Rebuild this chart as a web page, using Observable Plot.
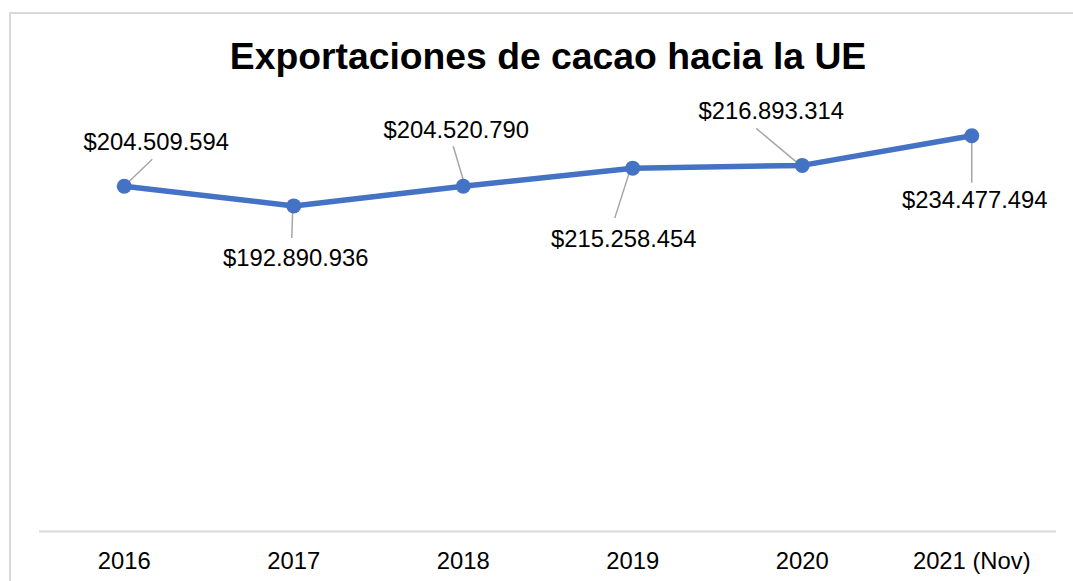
<!DOCTYPE html>
<html>
<head>
<meta charset="utf-8">
<script src="https://cdn.jsdelivr.net/npm/d3@7"></script>
<script src="https://cdn.jsdelivr.net/npm/@observablehq/plot@0.6"></script>
<style>
  html, body { margin: 0; padding: 0; background: #fff; overflow: hidden; }
  #wrap { position: relative; width: 1073px; height: 581px; overflow: hidden; font-family: "Liberation Sans", Arial, sans-serif; }
  #frame { position: absolute; left: 9px; top: 12px; width: 1200px; height: 700px; border: 2px solid #d9d9d9; box-sizing: border-box; }
  #title { position: absolute; left: 0; top: 0; width: 1096px; text-align: center; font-size: 37.3px; font-weight: bold; line-height: 1.15; padding-top: 35px; color: #000; }
  #chart { position: absolute; left: 0; top: 90px; }
</style>
</head>
<body>
<div id="wrap">
  <div id="frame"></div>
  <div id="title">Exportaciones de cacao hacia la UE</div>
  <div id="chart"></div>
</div>
<script>
// Data
const years = ["2016", "2017", "2018", "2019", "2020", "2021 (Nov)"];
const values = [204509594, 192890936, 204520790, 215258454, 216893314, 234477494];
const labels = ["$204.509.594", "$192.890.936", "$204.520.790", "$215.258.454", "$216.893.314", "$234.477.494"];

// Layout (pixel offsets of label centres and leader ends relative to each point)
const labelOffsets = [[32, -44], [2, 52], [-7, -56], [-9, 71], [-31, -54], [3, 65]];
const leaderOffsets = [[[2, -2], [28, -27]], [[-1, 2], [-2, 32]], [[1, -3], [-10, -40]], [[-3, 3], [-18, 50]], [[-3, -1], [-46, -37]], [[0, 3], [0, 47]]];

const W = 1073, H = 491, mL = 39, mR = 17, mT = 19, mB = 50;
const yMax = 250e6;
const kx = 6 / (W - mL - mR);          // data units per px in x (index scale)
const ky = yMax / (H - mT - mB);       // data units per px in y

const pts = years.map((yr, i) => ({i, year: yr, value: values[i], label: labels[i]}));
const leaders = pts.map((d, i) => ({
  x1: d.i + leaderOffsets[i][0][0] * kx, y1: d.value - leaderOffsets[i][0][1] * ky,
  x2: d.i + leaderOffsets[i][1][0] * kx, y2: d.value - leaderOffsets[i][1][1] * ky
}));

const blue = "#4472C4";
const fontSize = 23.8;

const plot = Plot.plot({
  width: W,
  height: H,
  marginLeft: mL,
  marginRight: mR,
  marginTop: mT,
  marginBottom: mB,
  style: {fontFamily: "'Liberation Sans', Arial, sans-serif", fontSize: fontSize + "px", background: "transparent", color: "#000"},
  x: {type: "linear", domain: [-0.5, 5.5], axis: null},
  y: {domain: [0, yMax], axis: null},
  marks: [
    Plot.ruleY([0], {stroke: "#d9d9d9", strokeWidth: 2}),
    Plot.axisX({ticks: [0, 1, 2, 3, 4, 5], tickFormat: i => years[i], tickSize: 0, tickPadding: 21, fontSize: fontSize, anchor: "bottom", color: "#000"}),
    Plot.link(leaders, {x1: "x1", y1: "y1", x2: "x2", y2: "y2", stroke: "#a6a6a6", strokeWidth: 1.5}),
    Plot.line(pts, {x: "i", y: "value", stroke: blue, strokeWidth: 5.5, strokeLinejoin: "round"}),
    Plot.dot(pts, {x: "i", y: "value", r: 7.5, fill: blue, stroke: "none"}),
    ...pts.map((d, i) => Plot.text([d], {
      x: "i", y: "value", text: "label",
      dx: labelOffsets[i][0], dy: labelOffsets[i][1],
      fontSize: fontSize, fill: "#000", textAnchor: "middle", lineAnchor: "middle"
    }))
  ]
});
document.getElementById("chart").appendChild(plot);
</script>
</body>
</html>
